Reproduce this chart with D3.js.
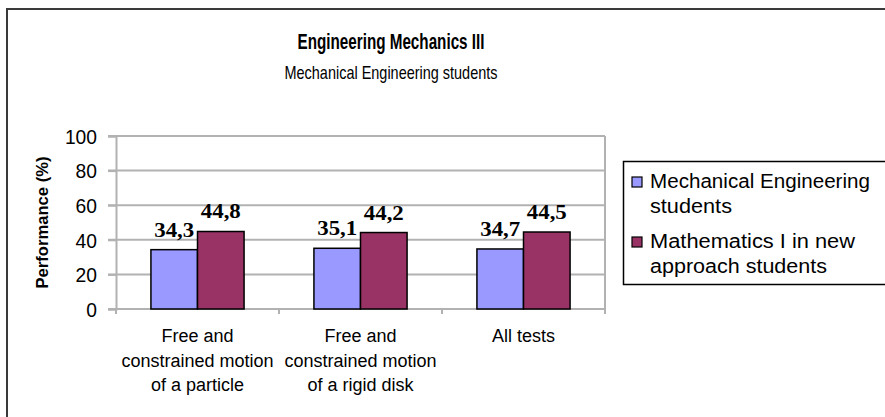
<!DOCTYPE html>
<html>
<head>
<meta charset="utf-8">
<script src="https://cdn.jsdelivr.net/npm/d3@7"></script>
<style>
  body { margin: 0; background: #fff; }
  svg { display: block; }
  text { font-family: "Liberation Sans", Arial, sans-serif; fill: #000; }
</style>
</head>
<body>
<div id="chart"></div>
<script>
// chart data
const categories = ["particle", "disk", "all"];
const categoryLines = [
    ["Free and", "constrained motion", "of a particle"],
    ["Free and", "constrained motion", "of a rigid disk"],
    ["All tests"]
];
const seriesNames = ["Mechanical Engineering students", "Mathematics I in new approach students"];
const legendLines = [["Mechanical Engineering", "students"], ["Mathematics I in new", "approach students"]];
const mechStudents = [34.3, 35.1, 34.7];
const mathStudents = [44.8, 44.2, 44.5];
const yTicks = [0, 20, 40, 60, 80, 100];
const colors = ["#9999ff", "#993366"];

const W = 885, H = 417;
const plot = { left: 116, right: 605, top: 136, bottom: 309 };

const svg = d3.select("#chart").append("svg")
    .attr("width", W)
    .attr("height", H);

// outer frame (cut off at right and bottom like the screenshot)
svg.append("rect")
    .attr("x", 7).attr("y", 9)
    .attr("width", 1000).attr("height", 1000)
    .attr("fill", "none")
    .attr("stroke", "#3a3a3a")
    .attr("stroke-width", 2);

// titles
svg.append("text")
    .attr("x", 391).attr("y", 49)
    .attr("text-anchor", "middle")
    .style("font-size", "22px").style("font-weight", "bold")
    .attr("textLength", 187).attr("lengthAdjust", "spacingAndGlyphs")
    .text("Engineering Mechanics III");

svg.append("text")
    .attr("x", 391).attr("y", 79)
    .attr("text-anchor", "middle")
    .style("font-size", "19px")
    .attr("textLength", 213).attr("lengthAdjust", "spacingAndGlyphs")
    .text("Mechanical Engineering students");

// scales
const x = d3.scaleBand()
    .domain(categories)
    .range([plot.left, plot.right])
    .paddingInner(0).paddingOuter(0);

const xInner = d3.scaleBand()
    .domain([0, 1])
    .range([0, x.bandwidth()])
    .paddingInner(0).paddingOuter(0.75);

const y = d3.scaleLinear()
    .domain([0, 100])
    .range([plot.bottom, plot.top]);

const gridColor = "#b2b2b2";

// gridlines
svg.append("g")
    .selectAll("line")
    .data(yTicks.filter(d => d > 0))
    .join("line")
    .attr("x1", plot.left - 8).attr("x2", plot.right)
    .attr("y1", d => y(d)).attr("y2", d => y(d))
    .attr("stroke", gridColor).attr("stroke-width", 2);

// right border of plot area
svg.append("line")
    .attr("x1", plot.right).attr("x2", plot.right)
    .attr("y1", plot.top).attr("y2", plot.bottom)
    .attr("stroke", gridColor).attr("stroke-width", 2);

// y axis
const yAxis = svg.append("g")
    .attr("transform", `translate(${plot.left},0)`)
    .call(d3.axisLeft(y).tickValues(yTicks).tickSize(8).tickPadding(11));
yAxis.select(".domain").attr("stroke", gridColor).attr("stroke-width", 2);
yAxis.selectAll(".tick line").attr("stroke", gridColor).attr("stroke-width", 2);
yAxis.selectAll(".tick text")
    .style("font-size", "20px")
    .style("font-family", "'Liberation Sans', Arial, sans-serif")
    .attr("fill", "#000")
    .attr("dy", "0.36em")
    .attr("textLength", d => String(d).length * 10.7)
    .attr("lengthAdjust", "spacingAndGlyphs");

// x axis
svg.append("line")
    .attr("x1", plot.left - 8).attr("x2", plot.right)
    .attr("y1", plot.bottom).attr("y2", plot.bottom)
    .attr("stroke", gridColor).attr("stroke-width", 2);

const xEdges = categories.map(c => x(c)).concat([plot.right]);
svg.append("g")
    .selectAll("line")
    .data(xEdges)
    .join("line")
    .attr("x1", d => d).attr("x2", d => d)
    .attr("y1", plot.bottom).attr("y2", plot.bottom + 5)
    .attr("stroke", gridColor).attr("stroke-width", 2);

// category labels
const catLabels = svg.append("g")
    .selectAll("text")
    .data(categories)
    .join("text")
    .attr("text-anchor", "middle")
    .style("font-size", "18px");
catLabels.selectAll("tspan")
    .data((d, i) => categoryLines[i])
    .join("tspan")
    .attr("x", function() { return x(d3.select(this.parentNode).datum()) + x.bandwidth() / 2; })
    .attr("y", (d, i) => 342 + i * 24.5)
    .text(d => d);

// y axis title
svg.append("text")
    .attr("transform", `translate(48,${(plot.top + plot.bottom) / 2}) rotate(-90)`)
    .attr("text-anchor", "middle")
    .style("font-size", "17px").style("font-weight", "bold")
    .attr("textLength", 132).attr("lengthAdjust", "spacingAndGlyphs")
    .text("Performance (%)");

// bars
const series = [mechStudents, mathStudents];
const rows = categories.map((c, i) => ({ cat: c, values: series.map(s => s[i]) }));
const fmt = d3.formatLocale({ decimal: ",", thousands: ".", grouping: [3], currency: ["", ""] }).format(".1f");

const groups = svg.append("g")
    .selectAll("g")
    .data(rows)
    .join("g")
    .attr("transform", d => `translate(${x(d.cat)},0)`);

groups.selectAll("rect")
    .data(d => d.values.map((v, k) => ({ k, v })))
    .join("rect")
    .attr("x", d => xInner(d.k))
    .attr("y", d => y(d.v))
    .attr("width", xInner.bandwidth())
    .attr("height", d => y(0) - y(d.v))
    .attr("fill", d => colors[d.k])
    .attr("stroke", "#000")
    .attr("stroke-width", 1.5);

groups.selectAll("text")
    .data(d => d.values.map((v, k) => ({ k, v })))
    .join("text")
    .attr("x", d => xInner(d.k) + xInner.bandwidth() / 2)
    .attr("y", d => y(d.v) - 13)
    .attr("text-anchor", "middle")
    .style("font-family", "'Liberation Serif', 'Times New Roman', serif")
    .style("font-size", "21px").style("font-weight", "bold")
    .attr("textLength", 40).attr("lengthAdjust", "spacingAndGlyphs")
    .text(d => fmt(d.v));

// legend
const legend = svg.append("g");
legend.append("rect")
    .attr("x", 623.5).attr("y", 161.5)
    .attr("width", 400).attr("height", 123)
    .attr("fill", "#fff")
    .attr("stroke", "#000").attr("stroke-width", 1.5);

const legendWidths = [[220, 82], [205, 177]];
const legendItems = legend.selectAll("g.item")
    .data(seriesNames)
    .join("g")
    .attr("class", "item")
    .attr("transform", (d, i) => `translate(0,${i * 60})`);

legendItems.append("rect")
    .attr("x", 632).attr("y", 177)
    .attr("width", 10).attr("height", 10)
    .attr("fill", (d, i) => colors[i])
    .attr("stroke", "#000").attr("stroke-width", 1.2);

legendItems.selectAll("text")
    .data((d, i) => legendLines[i].map((t, j) => ({ t, j, w: legendWidths[i][j] })))
    .join("text")
    .attr("x", 650)
    .attr("y", d => 188 + d.j * 25)
    .style("font-size", "19.5px")
    .attr("textLength", d => d.w).attr("lengthAdjust", "spacingAndGlyphs")
    .text(d => d.t);
</script>
</body>
</html>
